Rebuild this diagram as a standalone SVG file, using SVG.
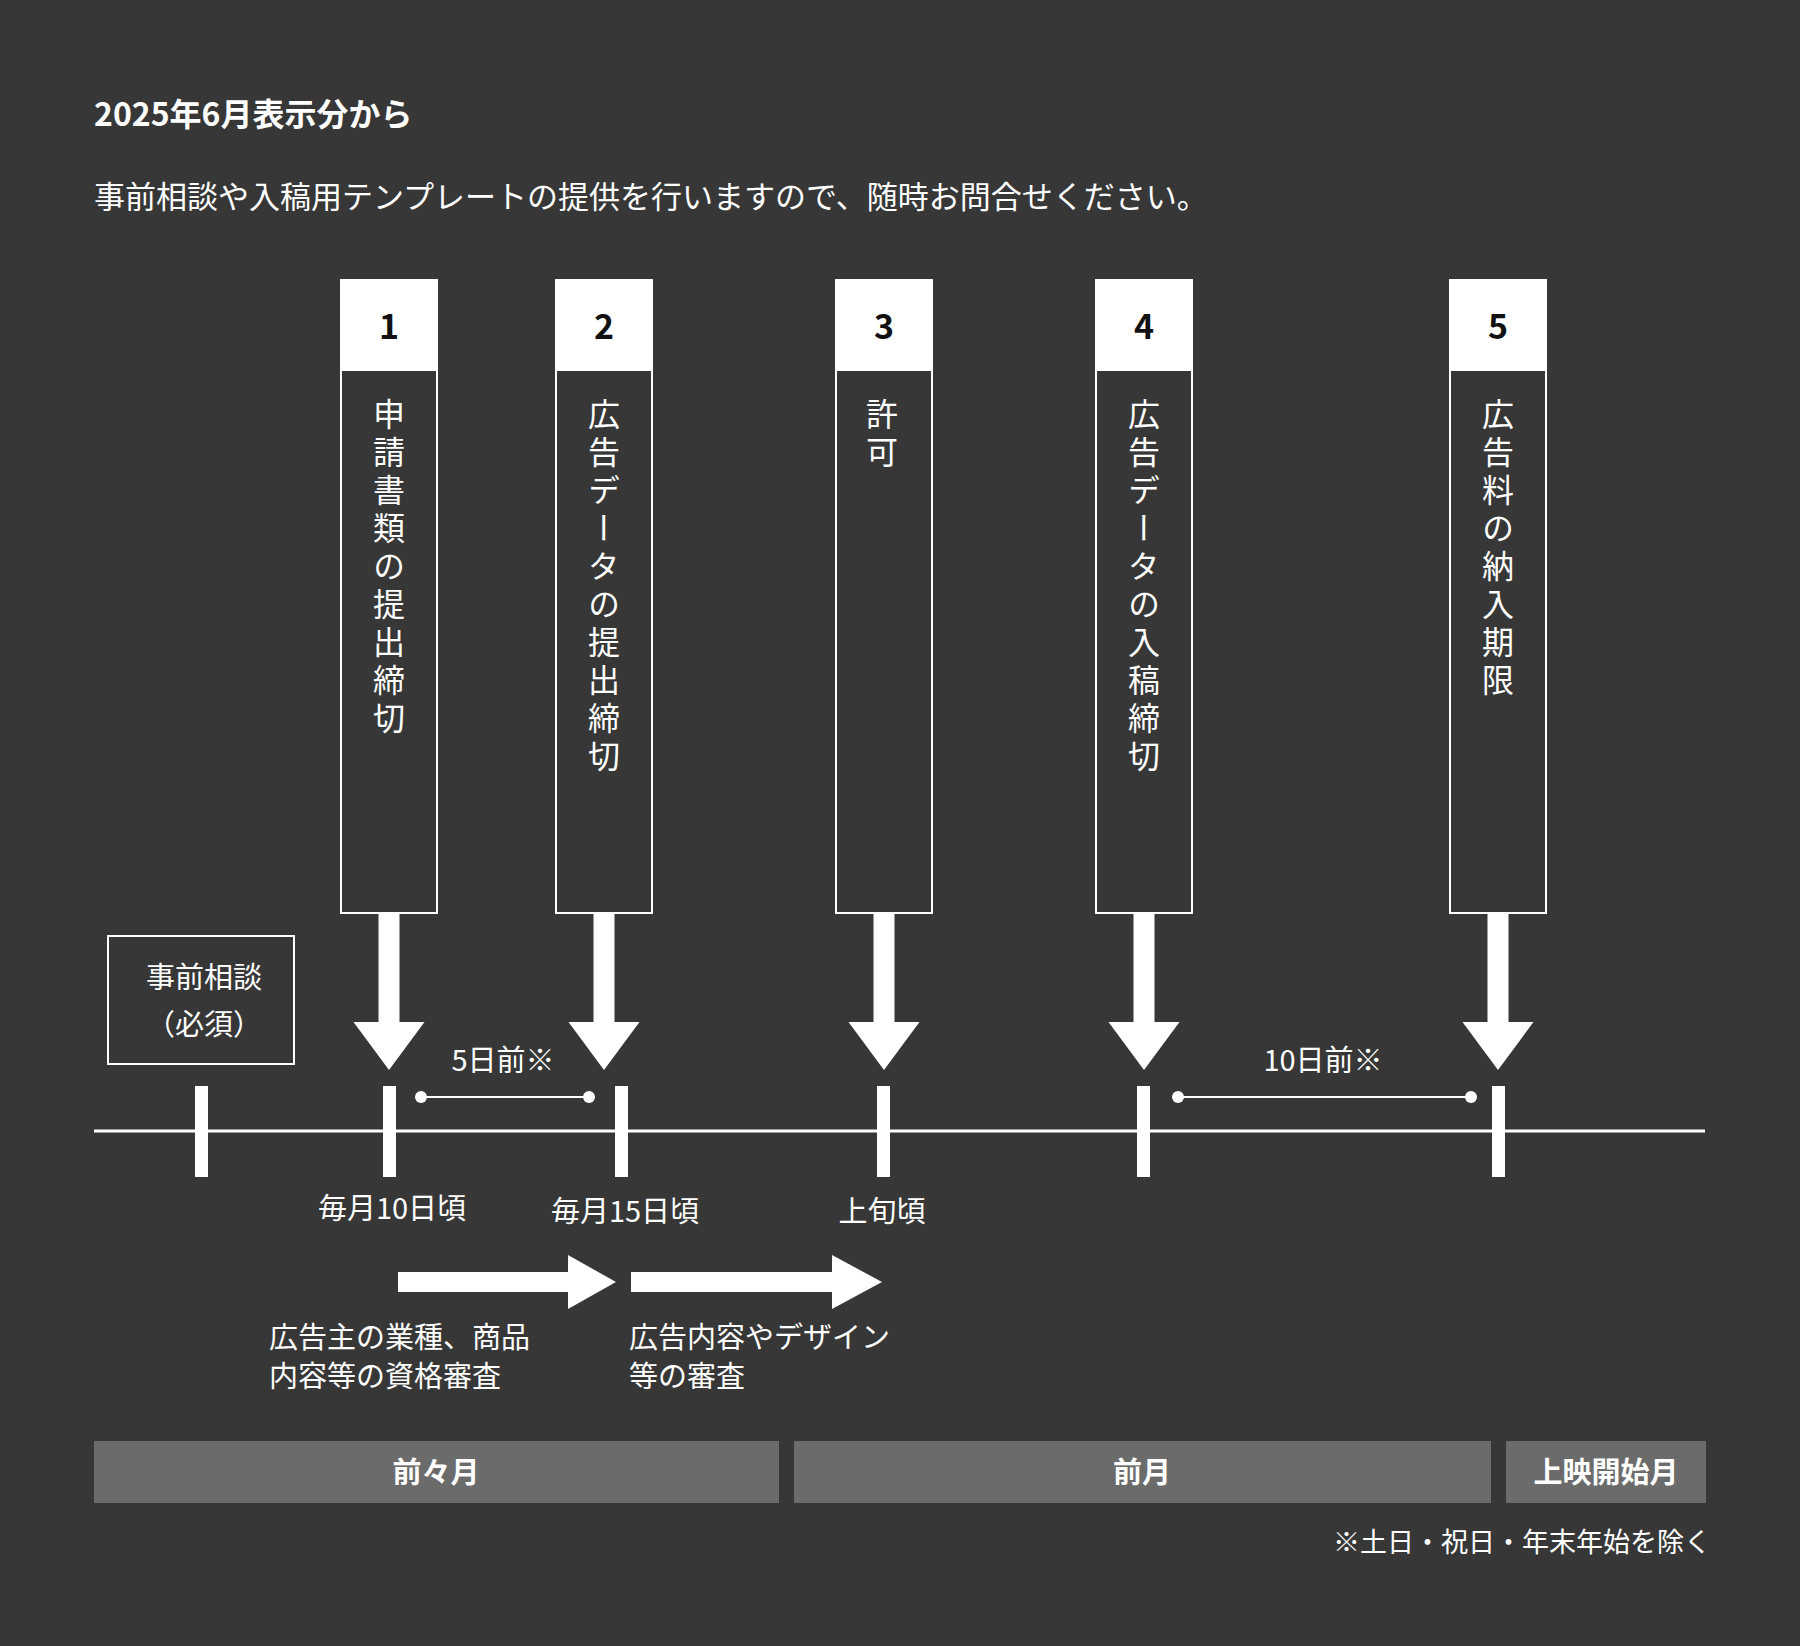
<svg xmlns="http://www.w3.org/2000/svg" width="1800" height="1646" viewBox="0 0 1800 1646">
<style>
text{font-family:"Noto Sans CJK JP","Noto Sans",sans-serif;fill:#fff}
.b{font-weight:bold}
.num{font-weight:bold;fill:#111;font-size:34px;text-anchor:middle}
.v{font-size:32px;writing-mode:vertical-rl;text-orientation:upright;letter-spacing:6px}
.box{fill:#373737;stroke:#fff;stroke-width:2}
.m{font-size:29px;text-anchor:middle}
.t{font-size:29px}
</style>
<rect width="1800" height="1646" fill="#373737"/>
<text x="94" y="126" class="b" font-size="32">2025年6月表示分から</text>
<text x="94" y="208" font-size="31">事前相談や入稿用テンプレートの提供を行いますので、随時お問合せください。</text>
<g id="n1"><rect x="341" y="280" width="96" height="633" class="box"/><rect x="341" y="280" width="96" height="91" fill="#fff"/><text x="389" y="339" class="num">1</text><text x="389" y="398" class="v">申請書類の提出締切</text></g>
<g id="n2"><rect x="556" y="280" width="96" height="633" class="box"/><rect x="556" y="280" width="96" height="91" fill="#fff"/><text x="604" y="339" class="num">2</text><text x="604" y="398" class="v">広告データの提出締切</text></g>
<g id="n3"><rect x="836" y="280" width="96" height="633" class="box"/><rect x="836" y="280" width="96" height="91" fill="#fff"/><text x="884" y="339" class="num">3</text><text x="882" y="398" class="v">許可</text></g>
<g id="n4"><rect x="1096" y="280" width="96" height="633" class="box"/><rect x="1096" y="280" width="96" height="91" fill="#fff"/><text x="1144" y="339" class="num">4</text><text x="1144" y="398" class="v">広告データの入稿締切</text></g>
<g id="n5"><rect x="1450" y="280" width="96" height="633" class="box"/><rect x="1450" y="280" width="96" height="91" fill="#fff"/><text x="1498" y="339" class="num">5</text><text x="1498" y="398" class="v">広告料の納入期限</text></g>
<g id="consult"><rect x="108" y="936" width="186" height="128" class="box"/><text x="204" y="988" class="m" font-size="31">事前相談</text><text x="204" y="1035" class="m" font-size="31">（必須）</text></g>
<g id="connectors" fill="#fff">
<path d="M378.5 913h21v109h25l-35.5 48-35.5-48h25z"/>
<path d="M593.5 913h21v109h25l-35.5 48-35.5-48h25z"/>
<path d="M873.5 913h21v109h25l-35.5 48-35.5-48h25z"/>
<path d="M1133.5 913h21v109h25l-35.5 48-35.5-48h25z"/>
<path d="M1487.5 913h21v109h25l-35.5 48-35.5-48h25z"/>
<rect x="94" y="1129.5" width="1611" height="3"/>
<rect x="195" y="1086" width="13" height="91"/>
<rect x="383" y="1086" width="13" height="91"/>
<rect x="615" y="1086" width="13" height="91"/>
<rect x="877" y="1086" width="13" height="91"/>
<rect x="1137" y="1086" width="13" height="91"/>
<rect x="1492" y="1086" width="13" height="91"/>
<rect x="421" y="1096" width="168" height="2"/><circle cx="421" cy="1097" r="6"/><circle cx="589" cy="1097" r="6"/>
<rect x="1178" y="1096" width="293" height="2"/><circle cx="1178" cy="1097" r="6"/><circle cx="1471" cy="1097" r="6"/>
<path d="M398 1272h170v-17l48 27-48 27v-17h-170z"/>
<path d="M631 1272h201v-17l50 27-50 27v-17h-201z"/>
</g>
<text x="503" y="1071" class="m">5日前※</text>
<text x="1323" y="1071" class="m">10日前※</text>
<text x="392" y="1219" class="m">毎月10日頃</text>
<text x="625" y="1222" class="m">毎月15日頃</text>
<text x="882" y="1222" class="m">上旬頃</text>
<text x="269" y="1348" class="t" font-size="31">広告主の業種、商品</text>
<text x="269" y="1387" class="t" font-size="31">内容等の資格審査</text>
<text x="629" y="1348" class="t" font-size="31">広告内容やデザイン</text>
<text x="629" y="1387" class="t" font-size="31">等の審査</text>
<g id="months">
<rect x="94" y="1441" width="685" height="62" fill="#6b6b6b"/><text x="436" y="1483" class="m b" font-size="30">前々月</text>
<rect x="794" y="1441" width="697" height="62" fill="#6b6b6b"/><text x="1142" y="1483" class="m b" font-size="30">前月</text>
<rect x="1506" y="1441" width="200" height="62" fill="#6b6b6b"/><text x="1606" y="1483" class="m b" font-size="30">上映開始月</text>
</g>
<text x="1711" y="1552" font-size="27" text-anchor="end">※土日・祝日・年末年始を除く</text>
</svg>
